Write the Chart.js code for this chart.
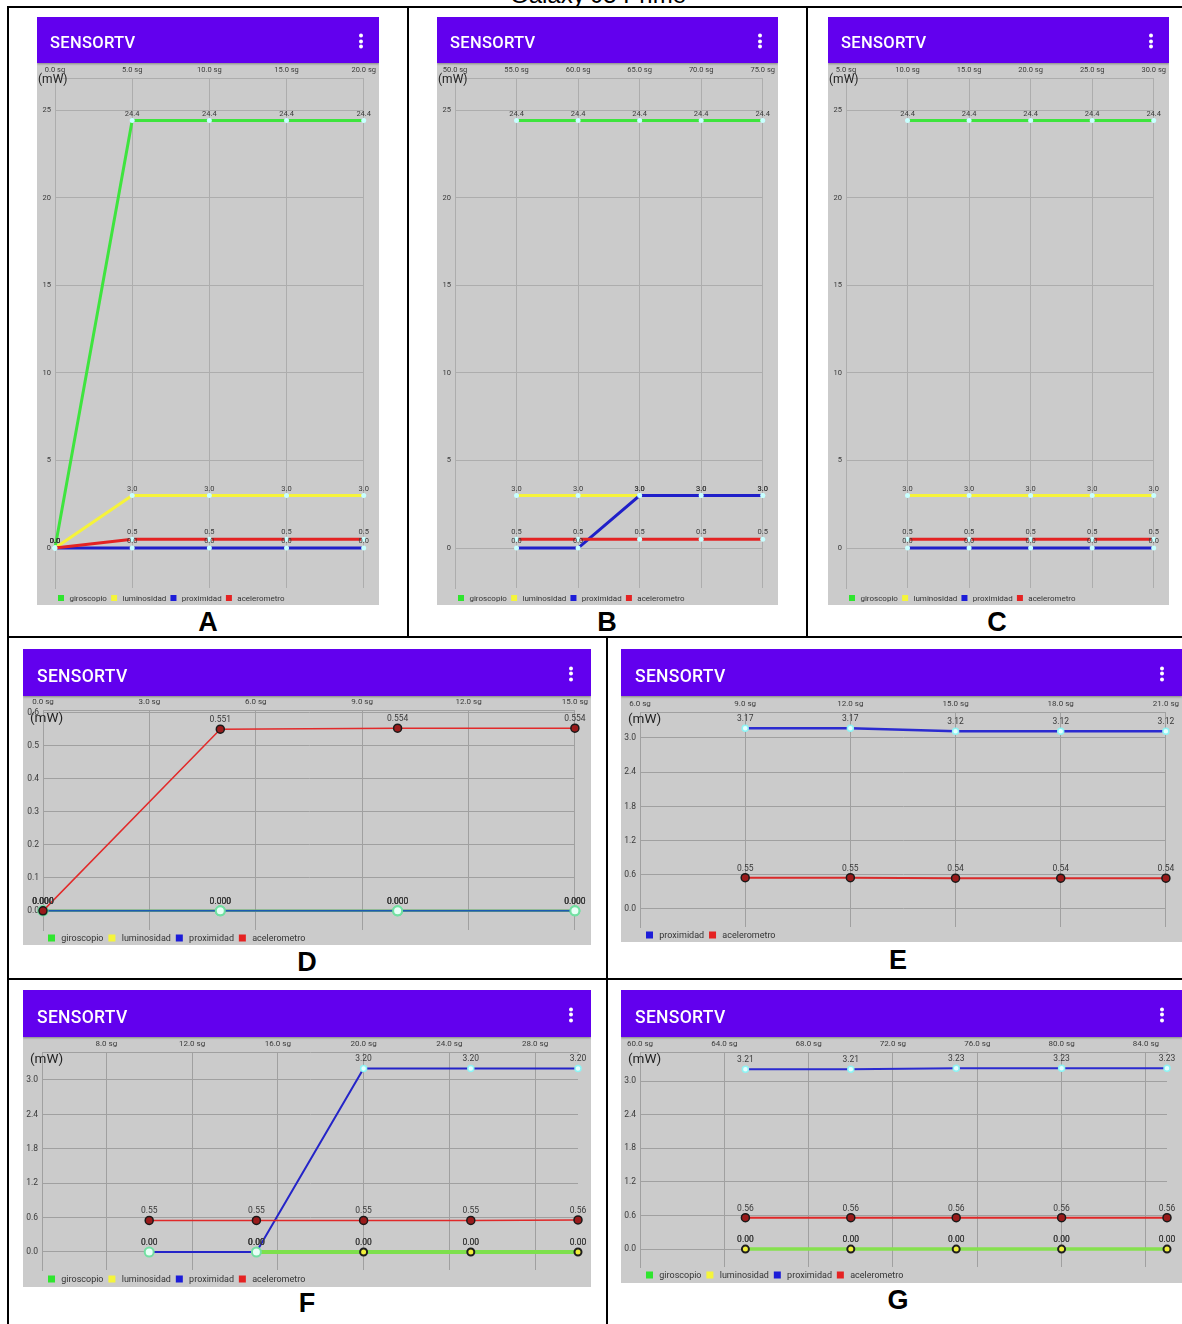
<!DOCTYPE html>
<html>
<head>
<meta charset="utf-8">
<script src="https://cdn.jsdelivr.net/npm/chart.js@4.4.1/dist/chart.umd.min.js"></script>
<style>
  body { margin: 0; width: 1182px; height: 1324px; position: relative; overflow: hidden; background: #fff; font-family: Roboto, sans-serif; }
  .ln { position: absolute; background: #000; }
  .title { position: absolute; left: 0; width: 1196px; top: -17px; text-align: center; font: 24px/24px "Liberation Sans", Arial, sans-serif; color: #000; }
  .panel { position: absolute; overflow: hidden; }
  .bar { position: relative; background: #6200ee; color: #fff; box-shadow: 0 1px 2px rgba(0,0,0,0.35); z-index: 1; }
  .bar .t { position: absolute; top: 50%; transform: translateY(-36%); font-weight: 500; letter-spacing: 0.3px; }
  .bar .dots { position: absolute; top: 50%; transform: translateY(-40%); width: 4px; }
  .bar .dots i { display: block; width: 4px; height: 4px; border-radius: 2px; background: #fff; margin-bottom: 1.5px; }
  .plot { background: #cbcbcb; }
  .plot canvas { display: block; }
  .letter { position: absolute; transform: translate(-50%, -50%); font: bold 27px "Liberation Sans", Arial, sans-serif; color: #000; }
</style>
</head>
<body>
<div class="title">Galaxy J5 Prime</div>
<div class="ln" style="left:7px;top:6px;width:1175px;height:2px"></div>
<div class="ln" style="left:7px;top:6px;width:2px;height:1318px"></div>
<div class="ln" style="left:407px;top:6px;width:2px;height:632px"></div>
<div class="ln" style="left:806px;top:6px;width:2px;height:632px"></div>
<div class="ln" style="left:7px;top:636px;width:1175px;height:2px"></div>
<div class="ln" style="left:606px;top:636px;width:2px;height:688px"></div>
<div class="ln" style="left:7px;top:978px;width:1175px;height:2px"></div>

<script>
const seriesNames = ['giroscopio', 'luminosidad', 'proximidad', 'acelerometro'];

// A
const timeA = [0, 5, 10, 15, 20];
const giroA = [0, 24.4, 24.4, 24.4, 24.4];
const lumA = [0, 3.0, 3.0, 3.0, 3.0];
const proxA = [0, 0.0, 0.0, 0.0, 0.0];
const acelA = [0, 0.5, 0.5, 0.5, 0.5];
const xTicksA = [0, 5, 10, 15, 20];

// B
const timeB = [55, 60, 65, 70, 75];
const giroB = [24.4, 24.4, 24.4, 24.4, 24.4];
const lumB = [3.0, 3.0, 3.0, 3.0, 3.0];
const proxB = [0.0, 0.0, 3.0, 3.0, 3.0];
const acelB = [0.5, 0.5, 0.5, 0.5, 0.5];
const xTicksB = [50, 55, 60, 65, 70, 75];

// C
const timeC = [10, 15, 20, 25, 30];
const giroC = [24.4, 24.4, 24.4, 24.4, 24.4];
const lumC = [3.0, 3.0, 3.0, 3.0, 3.0];
const proxC = [0.0, 0.0, 0.0, 0.0, 0.0];
const acelC = [0.5, 0.5, 0.5, 0.5, 0.5];
const xTicksC = [5, 10, 15, 20, 25, 30];

const yTicksABC = [0, 5, 10, 15, 20, 25];

// D
const timeD = [0, 5, 10, 15];
const giroD = [0, 0, 0, 0];
const lumD = [0, 0, 0, 0];
const proxD = [0, 0, 0, 0];
const acelD = [0, 0.551, 0.554, 0.554];
const xTicksD = [0, 3, 6, 9, 12, 15];
const yTicksD = [0, 0.1, 0.2, 0.3, 0.4, 0.5, 0.6];

// E
const timeE = [9, 12, 15, 18, 21];
const proxE = [3.17, 3.17, 3.12, 3.12, 3.12];
const acelE = [0.55, 0.55, 0.54, 0.54, 0.54];
const xTicksE = [6, 9, 12, 15, 18, 21];

// F
const timeF = [10, 15, 20, 25, 30];
const giroF = [null, 0, 0, 0, 0];
const lumF = [0, 0, 0, 0, 0];
const proxF = [0, 0, 3.20, 3.20, 3.20];
const acelF = [0.55, 0.55, 0.55, 0.55, 0.56];
const xTicksF = [8, 12, 16, 20, 24, 28];

// G
const timeG = [65, 70, 75, 80, 85];
const giroG = [0, 0, 0, 0, 0];
const lumG = [0, 0, 0, 0, 0];
const proxG = [3.21, 3.21, 3.23, 3.23, 3.23];
const acelG = [0.56, 0.56, 0.56, 0.56, 0.56];
const xTicksG = [60, 64, 68, 72, 76, 80, 84];

const yTicksEFG = [0, 0.6, 1.2, 1.8, 2.4, 3.0];

const panelLetters = ['A', 'B', 'C', 'D', 'E', 'F', 'G'];

const legendColors = { giroscopio: '#2fe52f', luminosidad: '#f5f53a', proximidad: '#1c1cd8', acelerometro: '#e52222' };

// line + point looks
function thick(color) {
  return { borderColor: color, borderWidth: 3, pointRadius: 2.5, pointBackgroundColor: '#c8ffff', pointBorderWidth: 0 };
}
const ringPt = { pointRadius: 4.5, pointBackgroundColor: '#e8fff6', pointBorderColor: '#72e0a2', pointBorderWidth: 2 };
const darkPt = { pointRadius: 4, pointBackgroundColor: '#9a1b1b', pointBorderColor: '#1a1a1a', pointBorderWidth: 1.5 };
const cyanPt = { pointRadius: 3, pointBackgroundColor: '#e6ffff', pointBorderColor: '#8ef4f4', pointBorderWidth: 1.5 };
const yellowPt = { showLine: false, pointRadius: 3.5, pointBackgroundColor: '#f1ee3a', pointBorderColor: '#1e1e1e', pointBorderWidth: 2 };

const small = { fx: 7.5, fy: 7.5, fv: 7.5, fl: 8, fu: 12, sq: 6, vOff: 3, unit: [1, 17], barFont: 16.5, barPad: 13, dotsR: 16, grid: '#adadad' };
const big = { fx: 8, fy: 8.5, fv: 8.5, fl: 9, fu: 13.5, sq: 7, vOff: 5, unit: [7, 23], barFont: 17.5, barPad: 14, dotsR: 18, grid: '#a0a0a0' };

const panels = [
  { ...small, left: 37, top: 17, w: 342, bar: 46, h: 542, x: [0, 20], xTicks: xTicksA, y: [-2.28, 26.83], yTicks: yTicksABC, yDec: 0, vDec: 1,
    yw: 18, xh: 15, padR: 13, padB: 17, leg: [21, 535], letter: [208, 622],
    sets: [['giroscopio', timeA, giroA, thick('#3ee43e')], ['luminosidad', timeA, lumA, thick('#f6f33a')],
           ['proximidad', timeA, proxA, thick('#1f1fc9')], ['acelerometro', timeA, acelA, thick('#e32323')]] },
  { ...small, left: 437, top: 17, w: 341, bar: 46, h: 542, x: [50, 75], xTicks: xTicksB, y: [-2.28, 26.83], yTicks: yTicksABC, yDec: 0, vDec: 1,
    yw: 18, xh: 15, padR: 13, padB: 17, leg: [21, 535], letter: [607, 622],
    sets: [['giroscopio', timeB, giroB, thick('#3ee43e')], ['luminosidad', timeB, lumB, thick('#f6f33a')],
           ['proximidad', timeB, proxB, thick('#1f1fc9')], ['acelerometro', timeB, acelB, thick('#e32323')]] },
  { ...small, left: 828, top: 17, w: 341, bar: 46, h: 542, x: [5, 30], xTicks: xTicksC, y: [-2.28, 26.83], yTicks: yTicksABC, yDec: 0, vDec: 1,
    yw: 18, xh: 15, padR: 13, padB: 17, leg: [21, 535], letter: [997, 622],
    sets: [['giroscopio', timeC, giroC, thick('#3ee43e')], ['luminosidad', timeC, lumC, thick('#f6f33a')],
           ['proximidad', timeC, proxC, thick('#1f1fc9')], ['acelerometro', timeC, acelC, thick('#e32323')]] },
  { ...big, left: 23, top: 649, w: 568, bar: 47, h: 249, x: [0, 15], xTicks: xTicksD, y: [-0.058, 0.609], yTicks: yTicksD, yDec: 1, vDec: 3,
    yw: 20, xh: 14, padR: 13, padB: 15, leg: [25, 242], letter: [307, 962],
    sets: [['giroscopio', timeD, giroD, { borderColor: '#3ee43e', borderWidth: 2, ...ringPt }],
           ['luminosidad', timeD, lumD, { borderColor: '#f6f33a', borderWidth: 2, ...ringPt }],
           ['proximidad', timeD, proxD, { borderColor: '#1b5cb3', borderWidth: 2, ...ringPt }],
           ['acelerometro', timeD, acelD, { borderColor: '#e22a2a', borderWidth: 1.5, ...darkPt }]] },
  { ...big, left: 621, top: 649, w: 561, bar: 47, h: 246, x: [6, 21], xTicks: xTicksE, y: [-0.316, 3.456], yTicks: yTicksEFG, yDec: 1, vDec: 2,
    yw: 19, xh: 16, padR: 15, padB: 15, leg: [25, 239], unit: [7, 24], letter: [898, 960],
    sets: [['proximidad', timeE, proxE, { borderColor: '#2b2bd0', borderWidth: 2.5, ...cyanPt }],
           ['acelerometro', timeE, acelE, { borderColor: '#d92a2a', borderWidth: 2, ...darkPt }]] },
  { ...big, left: 23, top: 990, w: 568, bar: 47, h: 250, x: [5, 30], xTicks: xTicksF, y: [-0.314, 3.488], yTicks: yTicksEFG, yDec: 1, vDec: 2,
    yw: 19, xh: 15, padR: 13, padB: 17, leg: [25, 242], letter: [307, 1303],
    sets: [['giroscopio', timeF, giroF, { borderColor: '#7de04c', borderWidth: 4, pointRadius: 0 }],
           ['luminosidad', timeF, lumF, { ...yellowPt, pointRadius: [0, 0, 3.5, 3.5, 3.5] }],
           ['proximidad', timeF, proxF, { borderColor: '#2424c8', borderWidth: 2, pointRadius: [4.5, 4.5, 3, 3, 3],
              pointBackgroundColor: ['#e8fff6', '#e8fff6', '#e6ffff', '#e6ffff', '#e6ffff'],
              pointBorderColor: ['#72e0a2', '#72e0a2', '#8ef4f4', '#8ef4f4', '#8ef4f4'], pointBorderWidth: [2, 2, 1.5, 1.5, 1.5] }],
           ['acelerometro', timeF, acelF, { borderColor: '#e02828', borderWidth: 1.5, ...darkPt }]] },
  { ...big, left: 621, top: 990, w: 561, bar: 47, h: 246, x: [60, 85], xTicks: xTicksG, y: [-0.32, 3.518], yTicks: yTicksEFG, yDec: 1, vDec: 2,
    yw: 19, xh: 15, padR: 15, padB: 16, leg: [25, 238], letter: [898, 1300],
    sets: [['giroscopio', timeG, giroG, { borderColor: '#86e04e', borderWidth: 3.5, pointRadius: 0 }],
           ['luminosidad', timeG, lumG, yellowPt],
           ['proximidad', timeG, proxG, { borderColor: '#2b2bd0', borderWidth: 2, ...cyanPt }],
           ['acelerometro', timeG, acelG, { borderColor: '#e02828', borderWidth: 2, ...darkPt }]] }
];

// value labels, "(mW)" and the small legend, MPAndroidChart style
function decorPlugin(p) {
  return {
    id: 'decor',
    afterDatasetsDraw(chart) {
      const ctx = chart.ctx;
      ctx.save();
      ctx.font = p.fv + 'px Roboto';
      ctx.fillStyle = '#3a3a3a';
      ctx.textAlign = 'center';
      ctx.textBaseline = 'bottom';
      chart.data.datasets.forEach((ds, i) => {
        chart.getDatasetMeta(i).data.forEach((pt, k) => {
          const v = ds.data[k].y;
          if (v === null) return;
          ctx.fillText(v.toFixed(p.vDec), pt.x, pt.y - p.vOff);
        });
      });

      ctx.textAlign = 'left';
      ctx.textBaseline = 'middle';
      ctx.font = p.fu + 'px Roboto';
      ctx.fillStyle = '#222';
      ctx.fillText('(mW)', p.unit[0], p.unit[1]);

      ctx.font = p.fl + 'px Roboto';
      let x = p.leg[0];
      chart.data.datasets.forEach(ds => {
        ctx.fillStyle = ds.legendColor;
        ctx.fillRect(x, p.leg[1] - p.sq / 2, p.sq, p.sq);
        x += p.sq * 1.9;
        ctx.fillStyle = '#333';
        ctx.fillText(ds.label, x, p.leg[1] + 0.5);
        x += ctx.measureText(ds.label).width + p.sq * 0.7;
      });
      ctx.restore();
    }
  };
}

function buildPanel(p, idx) {
  const panel = document.createElement('div');
  panel.className = 'panel';
  panel.style.cssText = `left:${p.left}px;top:${p.top}px;width:${p.w}px;`;
  panel.innerHTML =
    `<div class="bar" style="height:${p.bar}px">` +
      `<span class="t" style="left:${p.barPad}px;font-size:${p.barFont}px">SENSORTV</span>` +
      `<span class="dots" style="right:${p.dotsR}px"><i></i><i></i><i></i></span>` +
    `</div>` +
    `<div class="plot" style="height:${p.h}px"><canvas width="${p.w}" height="${p.h}"></canvas></div>`;
  document.body.appendChild(panel);

  const letter = document.createElement('div');
  letter.className = 'letter';
  letter.style.left = p.letter[0] + 'px';
  letter.style.top = p.letter[1] + 'px';
  letter.textContent = panelLetters[idx];
  document.body.appendChild(letter);

  const n = p.sets.length;
  const datasets = p.sets.map((s, i) => ({
    label: s[0],
    data: s[1].map((t, k) => ({ x: t, y: s[2][k] })),
    order: n - i,
    fill: false,
    tension: 0,
    clip: false,
    legendColor: legendColors[s[0]],
    ...s[3]
  }));

  new Chart(panel.querySelector('canvas').getContext('2d'), {
    type: 'line',
    data: { datasets: datasets },
    options: {
      responsive: false,
      animation: false,
      events: [],
      layout: { autoPadding: false, padding: { left: 0, top: 0, right: p.padR, bottom: p.padB } },
      plugins: { legend: { display: false }, tooltip: { enabled: false } },
      scales: {
        x: {
          type: 'linear',
          position: 'top',
          min: p.x[0],
          max: p.x[1],
          afterBuildTicks: s => { s.ticks = p.xTicks.map(v => ({ value: v })); },
          afterFit: s => { s.height = p.xh; },
          ticks: {
            padding: 3, maxRotation: 0, autoSkip: false, color: '#3a3a3a',
            font: { family: 'Roboto', size: p.fx },
            callback: v => v.toFixed(1) + ' sg'
          },
          grid: { color: p.grid, drawTicks: false, lineWidth: 1 },
          border: { color: p.grid }
        },
        y: {
          type: 'linear',
          position: 'left',
          min: p.y[0],
          max: p.y[1],
          afterBuildTicks: s => { s.ticks = p.yTicks.map(v => ({ value: v })); },
          afterFit: s => { s.width = p.yw; },
          ticks: {
            padding: 4, color: '#3a3a3a',
            font: { family: 'Roboto', size: p.fy },
            callback: v => v.toFixed(p.yDec)
          },
          grid: { color: p.grid, drawTicks: false, lineWidth: 1 },
          border: { color: p.grid }
        }
      }
    },
    plugins: [decorPlugin(p)]
  });
}

document.addEventListener('DOMContentLoaded', function () {
  panels.forEach(buildPanel);
});
</script>
</body>
</html>
